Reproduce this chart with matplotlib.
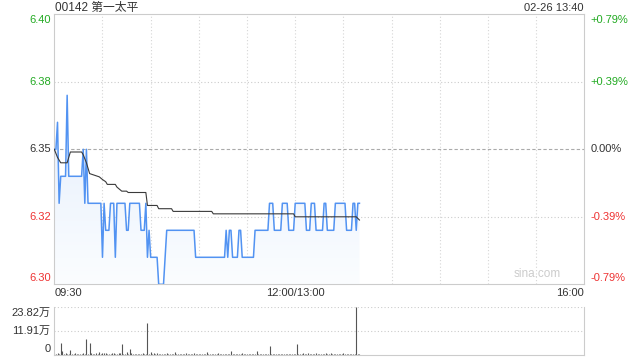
import numpy as np
import matplotlib
matplotlib.use('Agg')
import matplotlib.pyplot as plt
from matplotlib.colors import LinearSegmentedColormap

plt.rcParams['font.family']=['Liberation Sans','Noto Sans CJK SC','DejaVu Sans']

title='00142 第一太平'
stamp='02-26 13:40'
prev_close=6.35
y_ticks=[6.30,6.325,6.35,6.375,6.40]
y_labels=['6.30','6.32','6.35','6.38','6.40']
pct_labels=['-0.79%','-0.39%','0.00%','+0.39%','+0.79%']
x_labels=['09:30','12:00/13:00','16:00']
x_label_pos=[0,150,330]
vol_ticks=[0,11.91,23.82]
vol_labels=['0','11.91万','23.82万']

# price per minute, 09:30 .. 13:40 (lunch removed)
price=[6.35,6.35,6.36,6.33,6.34,6.34,6.34,6.34,6.37,6.34,
       6.34,6.34,6.34,6.34,6.34,6.34,6.34,6.34,6.35,6.33,
       6.35,6.33,6.33,6.33,6.33,6.33,6.33,6.33,6.33,6.33,
       6.31,6.33,6.32,6.32,6.32,6.33,6.33,6.33,6.31,6.33,
       6.33,6.33,6.33,6.33,6.33,6.32,6.32,6.33,6.33,6.33,
       6.33,6.33,6.33,6.33,6.32,6.32,6.32,6.33,6.31,6.32,
       6.31,6.31,6.31,6.31,6.31,6.30,6.30,6.30,6.30,6.31,
       6.32,6.32,6.32,6.32,6.32,6.32,6.32,6.32,6.32,6.32,
       6.32,6.32,6.32,6.32,6.32,6.32,6.32,6.32,6.31,6.31,
       6.31,6.31,6.31,6.31,6.31,6.31,6.31,6.31,6.31,6.31,
       6.31,6.31,6.31,6.31,6.31,6.31,6.31,6.32,6.31,6.32,
       6.32,6.31,6.31,6.31,6.31,6.32,6.32,6.31,6.31,6.31,
       6.31,6.31,6.31,6.31,6.31,6.32,6.32,6.32,6.32,6.32,
       6.32,6.32,6.32,6.32,6.33,6.33,6.33,6.32,6.32,6.32,
       6.32,6.32,6.33,6.33,6.33,6.33,6.32,6.32,6.32,6.32,
       6.33,6.33,6.33,6.33,6.33,6.33,6.33,6.32,6.32,6.32,
       6.33,6.33,6.33,6.32,6.32,6.32,6.32,6.32,6.33,6.33,
       6.32,6.32,6.32,6.32,6.32,6.33,6.33,6.33,6.33,6.33,
       6.33,6.33,6.32,6.32,6.32,6.32,6.33,6.33,6.32,6.33,
       6.33]

# average price line, vertices (minute, price)
avg_t=[0,2,4,8,10,17,18,20,22,28,30,32,33,38,39,41,42,45,46,57,58,64,65,73,74,98,99,149,150,188,190]
avg_p=[6.350,6.347,6.345,6.345,6.349,6.349,6.348,6.345,6.341,6.3398,6.3388,6.338,6.337,6.337,6.336,6.335,6.3345,6.3345,6.334,6.334,6.3292,6.3292,6.328,6.328,6.327,6.327,6.3261,6.3261,6.325,6.325,6.3238]

# volume per minute, in 万
volume=[1.0,0.5,0.8,0.6,6.1,2.0,0.6,0.9,0.5,0.7,
        2.3,0.6,0.4,0.8,0.5,0.6,0.4,0.7,0.9,0.5,
        8.0,0.6,6.0,1.0,0.6,0.5,0.8,0.4,1.3,0.7,
        1.0,0.9,1.2,0.5,0.7,0.6,0.9,1.2,0.5,0.6,
        0.8,1.0,5.6,0.7,0.5,1.4,0.6,2.8,0.9,0.5,
        0.6,0.4,0.7,0.5,0.6,0.8,0.5,0.4,15.9,0.7,
        1.5,0.5,0.8,0.6,0.9,0.5,0.7,0.4,0.6,0.5,
        0.8,0.5,0.6,0.4,0.7,1.6,0.5,0.6,0.4,0.7,
        0.5,0.6,0.8,0.4,0.5,0.7,0.6,1.1,0.5,0.6,
        0.4,0.7,0.5,0.6,0.4,1.3,0.5,0.6,0.4,0.7,
        0.5,0.6,0.8,0.4,0.5,0.7,0.6,0.5,0.4,0.6,
        2.0,0.5,0.6,0.4,0.7,0.5,0.6,0.8,0.4,0.5,
        0.6,0.7,0.5,0.4,0.6,0.5,1.8,0.6,0.5,0.4,
        0.7,0.5,0.6,0.5,4.5,0.6,0.5,0.4,0.7,0.5,
        0.6,0.4,0.5,0.7,0.6,0.5,0.4,0.6,0.5,0.7,
        0.6,5.6,0.5,0.6,0.4,0.8,0.5,0.6,1.0,0.5,
        0.7,0.4,0.6,0.9,0.5,0.6,0.4,0.7,0.5,0.8,
        0.6,0.5,0.9,0.4,0.6,0.5,0.7,0.4,0.6,0.5,
        0.8,0.4,0.6,0.5,0.7,0.4,0.6,0.5,23.82,0.5,
        0.4]

green='#22aa22'
red='#ee3333'
dark='#333333'
lab_colors=[red,red,dark,green,green]

t=np.arange(len(price))
fig=plt.figure(figsize=(6.4,3.6),dpi=100)
ax=fig.add_axes([54.3/640,1-284.3/360,530/640,270/360])
av=fig.add_axes([54.3/640,1-355/360,530/640,48.3/360])

# price panel
ax.set_xlim(0,330)
ax.set_ylim(6.30,6.40)
for s in ax.spines.values():
    s.set_color('#cccccc')
ax.tick_params(length=0,labelleft=False,labelbottom=False)
for xv in range(30,330,30):
    ax.axvline(xv,color='#d6d6d6',lw=0.8,ls=(0,(1,2)),zorder=0)
for yv in [6.325,6.375]:
    ax.axhline(yv,color='#cccccc',lw=0.8,ls=(0,(1,2)),zorder=0)
ax.axhline(prev_close,color='#aaaaaa',lw=0.8,ls=(0,(3,2)),zorder=0)

poly=ax.fill_between(t,price,6.30,color='none',lw=0)
grad=np.linspace(0,1,100).reshape(-1,1)
cm=LinearSegmentedColormap.from_list('g',['#fbfdff','#e4eefc'])
im=ax.imshow(grad,cmap=cm,aspect='auto',origin='lower',extent=[0,t[-1],6.30,6.37],zorder=1)
im.set_clip_path(poly.get_paths()[0],transform=ax.transData)
ax.plot(t,price,color='#5293f2',lw=1.1,zorder=3)
ax.plot(avg_t,avg_p,color='#3a3a3a',lw=0.8,zorder=4)

pts=72/100
for yv,lab,c in zip(y_ticks,y_labels,lab_colors):
    off=0
    if yv==6.40: off=-6*pts
    if yv==6.30: off=6*pts
    ax.annotate(lab,xy=(0,yv),xycoords=('axes fraction','data'),xytext=(-3*pts,off),textcoords='offset points',
                ha='right',va='center',fontsize=8,color=c)
for yv,lab,c in zip(y_ticks,pct_labels,lab_colors):
    off=0
    if yv==6.40: off=-6*pts
    if yv==6.30: off=6*pts
    ax.annotate(lab,xy=(1,yv),xycoords=('axes fraction','data'),xytext=(6*pts,off),textcoords='offset points',
                ha='left',va='center',fontsize=8,color=c)
has=['left','center','right']
for xv,lab,h in zip(x_label_pos,x_labels,has):
    ax.annotate(lab,xy=(xv,0),xycoords=('data','axes fraction'),xytext=(0,-9*pts),textcoords='offset points',
                ha=h,va='center',fontsize=8,color=dark)
ax.text(0.955,0.015,'sina.com',transform=ax.transAxes,ha='right',va='bottom',fontsize=8.5,color='#cccccc')
fig.text(55/640,1-7.5/360,title,ha='left',va='center',fontsize=8.5,color=dark)
fig.text(584/640,1-8/360,stamp,ha='right',va='center',fontsize=8,color=dark)

# volume panel
av.set_xlim(0,330)
av.set_ylim(0,23.82)
for s in av.spines.values():
    s.set_color('#cccccc')
av.spines['top'].set_visible(False)
av.axhline(23.82,color='#cccccc',lw=0.8,ls=(0,(1,2)))
av.axhline(11.91,color='#cccccc',lw=0.8,ls=(0,(1,2)))
av.tick_params(length=0,labelleft=False,labelbottom=False)
av.vlines(t,0,volume,color='#555555',lw=0.8)
for yv,lab in zip(vol_ticks,vol_labels):
    off=0
    if yv==23.82: off=-6*pts
    if yv==0: off=6*pts
    av.annotate(lab,xy=(0,yv),xycoords=('axes fraction','data'),xytext=(-4*pts,off),textcoords='offset points',
                ha='right',va='center',fontsize=8,color=dark)

fig.savefig('out.png',dpi=100)
